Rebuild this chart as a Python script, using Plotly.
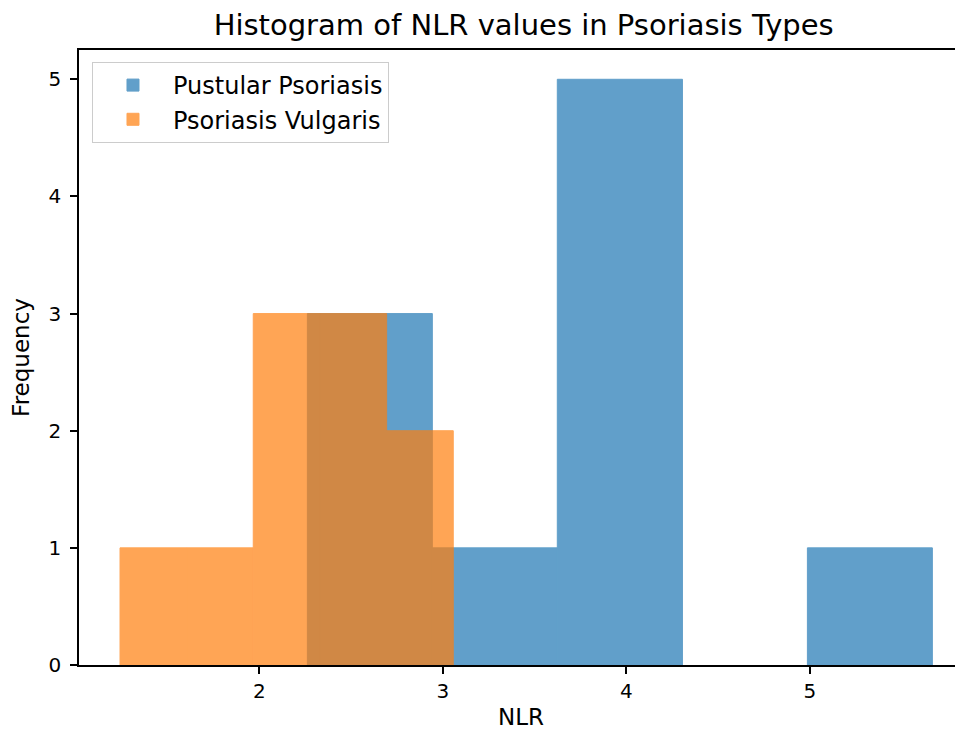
import plotly.graph_objects as go

# Histogram bin edges and counts
pustular_edges = [2.262, 2.943, 3.624, 4.306, 4.987, 5.668]
pustular_counts = [3, 1, 5, 0, 1]
vulgaris_edges = [1.241, 1.604, 1.967, 2.331, 2.694, 3.057]
vulgaris_counts = [1, 1, 3, 3, 2]
x_ticks = [2, 3, 4, 5]
y_ticks = [0, 1, 2, 3, 4, 5]


def bars(edges):
    centers = [(a + b) / 2 for a, b in zip(edges[:-1], edges[1:])]
    widths = [b - a for a, b in zip(edges[:-1], edges[1:])]
    return centers, widths


pc, pw = bars(pustular_edges)
vc, vw = bars(vulgaris_edges)

FONT = "DejaVu Sans"
W, H = 955, 724  # page adds an 8px body margin

fig = go.Figure()
fig.add_trace(go.Bar(x=pc, y=pustular_counts, width=pw, name="Pustular Psoriasis",
                     marker=dict(color="#1f77b4",
                                 line=dict(width=[1 if c > 0 else 0 for c in pustular_counts],
                                           color="#1f77b4")),
                     opacity=0.7))
fig.add_trace(go.Bar(x=vc, y=vulgaris_counts, width=vw, name="Psoriasis Vulgaris",
                     marker=dict(color="#ff7f0e",
                                 line=dict(width=[1 if c > 0 else 0 for c in vulgaris_counts],
                                           color="#ff7f0e")),
                     opacity=0.7))

fig.update_layout(
    width=W, height=H,
    barmode="overlay",
    plot_bgcolor="white", paper_bgcolor="white",
    margin=dict(l=71, r=0, t=42, b=67),
    font=dict(family=FONT, color="black", size=20),
    title=dict(text="Histogram of NLR values in Psoriasis Types",
               font=dict(family=FONT, size=29, color="black"),
               xref="paper", x=0.503, xanchor="center",
               yref="container", y=1 - 17 / H, yanchor="middle"),
    legend=dict(x=0.0147, y=0.9805, xanchor="left", yanchor="top",
                bgcolor="rgba(255,255,255,0.8)", bordercolor="#cccccc", borderwidth=1,
                font=dict(family=FONT, size=24, color="black"),
                itemwidth=70, tracegroupgap=4),
    showlegend=True,
)
fig.update_xaxes(range=[1.0174, 5.835], tickvals=x_ticks, ticktext=[str(t) for t in x_ticks],
                 showgrid=False, zeroline=False, showline=True, linecolor="black",
                 linewidth=1.5, mirror=True, ticks="outside", ticklen=7, tickwidth=1.5,
                 tickcolor="black", tickfont=dict(size=20),
                 title=dict(text="NLR", font=dict(size=23), standoff=7))
fig.update_yaxes(range=[0, 5.25], tickvals=y_ticks, ticktext=[str(t) for t in y_ticks],
                 showgrid=False, zeroline=False, showline=True, linecolor="black",
                 linewidth=1.5, ticks="outside", ticklen=7, tickwidth=1.5,
                 tickcolor="black", tickfont=dict(size=20), ticklabelstandoff=5,
                 title=dict(text="Frequency", font=dict(size=23), standoff=19))

fig.write_html("out.html")
